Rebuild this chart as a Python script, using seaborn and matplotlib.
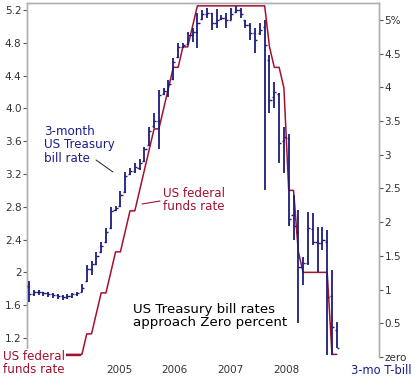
import matplotlib
matplotlib.use("Agg")
import matplotlib.pyplot as plt
import seaborn as sns
import pandas as pd
import numpy as np

# month index: 0 = Jul 2003 ... 64 = Nov 2008
months = list(range(65))

fed_funds = [1.0, 1.0, 1.0, 1.0, 1.0, 1.0, 1.0, 1.0, 1.0, 1.0, 1.0, 1.0,
             1.25, 1.25, 1.5, 1.75, 1.75, 2.0, 2.25, 2.25, 2.5, 2.75, 2.75, 3.0,
             3.25, 3.5, 3.75, 3.75, 4.0, 4.25, 4.5, 4.5, 4.75, 4.75, 5.0, 5.25,
             5.25, 5.25, 5.25, 5.25, 5.25, 5.25, 5.25, 5.25, 5.25, 5.25, 5.25, 5.25,
             5.25, 5.25, 4.75, 4.5, 4.5, 4.25, 3.0, 3.0, 2.25, 2.0, 2.0, 2.0,
             2.0, 2.0, 2.0, 1.0, 1.0]

tbill_low = [0.82, 0.90, 0.92, 0.91, 0.89, 0.88, 0.86, 0.85, 0.86, 0.88, 0.90, 0.96,
             1.11, 1.22, 1.36, 1.54, 1.69, 1.90, 2.17, 2.23, 2.43, 2.70, 2.73, 2.77,
             2.89, 3.13, 3.40, 3.08, 3.89, 3.86, 4.11, 4.44, 4.58, 4.63, 4.67, 4.58,
             5.00, 5.03, 4.85, 4.88, 5.00, 4.88, 5.00, 5.10, 5.03, 4.88, 4.70, 4.51,
             4.78, 2.48, 3.62, 3.69, 2.88, 2.73, 1.95, 1.74, 0.50, 1.07, 1.36, 1.66,
             1.26, 1.59, 0.03, 0.03, 0.13]
tbill_high = [1.12, 1.00, 0.99, 0.97, 0.96, 0.95, 0.93, 0.92, 0.93, 0.95, 0.97, 1.08,
              1.37, 1.42, 1.56, 1.71, 1.91, 2.22, 2.24, 2.46, 2.75, 2.80, 2.88, 2.93,
              3.12, 3.41, 3.62, 3.96, 3.99, 4.11, 4.44, 4.66, 4.66, 4.82, 4.88, 5.10,
              5.15, 5.18, 5.10, 5.16, 5.07, 5.10, 5.18, 5.21, 5.18, 5.00, 4.96, 4.88,
              4.96, 5.00, 4.48, 4.08, 3.92, 3.41, 3.30, 2.40, 2.18, 1.48, 2.15, 2.14,
              1.93, 1.93, 1.88, 1.29, 0.52]
tbill_open = [1.05, 0.93, 0.96, 0.97, 0.95, 0.93, 0.92, 0.90, 0.89, 0.91, 0.93, 0.96,
              1.12, 1.30, 1.38, 1.55, 1.70, 1.92, 2.18, 2.24, 2.45, 2.72, 2.76, 2.80,
              2.90, 3.14, 3.42, 3.50, 3.90, 3.95, 4.12, 4.45, 4.60, 4.64, 4.78, 4.82,
              5.02, 5.08, 5.10, 4.95, 5.02, 5.03, 5.00, 5.12, 5.15, 5.00, 4.92, 4.80,
              4.80, 4.90, 4.40, 3.85, 3.90, 3.20, 3.25, 2.10, 1.85, 1.33, 1.40, 1.90,
              1.70, 1.69, 1.70, 0.90, 0.40]
tbill_close = [0.93, 0.96, 0.97, 0.95, 0.93, 0.92, 0.90, 0.89, 0.91, 0.93, 0.95, 1.03,
               1.30, 1.38, 1.50, 1.65, 1.85, 2.16, 2.21, 2.40, 2.68, 2.76, 2.82, 2.88,
               3.08, 3.35, 3.50, 3.88, 3.95, 4.05, 4.38, 4.60, 4.62, 4.78, 4.82, 4.95,
               5.08, 5.10, 4.95, 5.00, 5.03, 5.00, 5.08, 5.15, 5.08, 4.92, 4.80, 4.70,
               4.85, 4.62, 3.81, 3.93, 3.17, 3.26, 2.05, 1.95, 1.33, 1.40, 1.91, 1.71,
               1.69, 1.74, 0.89, 0.45, 0.13]

left_ticks = [1.2, 1.6, 2.0, 2.4, 2.8, 3.2, 3.6, 4.0, 4.4, 4.8, 5.2]
left_labels = ["1.2", "1.6", "2", "2.4", "2.8", "3.2", "3.6", "4.0", "4.4", "4.8", "5.2"]
right_ticks = [0, 0.5, 1, 1.5, 2, 2.5, 3, 3.5, 4, 4.5, 5]
right_labels = ["zero", "0.5", "1", "1.5", "2", "2.5", "3", "3.5", "4", "4.5", "5%"]
year_pos = [18.7, 30.3, 41.9, 53.6]
year_labels = ["2005", "2006", "2007", "2008"]

df_ff = pd.DataFrame({"m": months, "rate": fed_funds})

sns.set_theme(style="white")
plt.rcParams["font.family"] = ["DejaVu Sans"]

W, H = 415, 379
fig = plt.figure(figsize=(W / 100, H / 100), dpi=100)
ax = fig.add_axes([27 / W, (H - 357) / H, (379 - 27) / W, (357 - 3) / H])

RED = "#a3112e"
BLUE = "#1c1c7a"
GRAY = "#b0b0b0"
TXT = "#333333"

sns.lineplot(data=df_ff, x="m", y="rate", ax=ax, color=RED, linewidth=1.1, zorder=2)
ax.set_xlim(-0.42, 72.77)
ax.set_ylim(0.968, 5.285)
ax.set_xlabel("")
ax.set_ylabel("")
ax.set_yticks(left_ticks)
ax.set_yticklabels(left_labels)
ax.set_xticks(year_pos)
ax.set_xticklabels(year_labels)
ax.tick_params(axis="y", direction="out", length=3, width=0.8, color="#555555",
               labelsize=7.5, labelcolor=TXT, pad=1, left=True)
ax.tick_params(axis="x", length=0, labelsize=7.5, labelcolor=TXT, pad=6)

ax2 = ax.twinx()
ax2.set_ylim(0, 5.25)
mm = np.array(months, dtype=float)
ax2.vlines(mm, tbill_low, tbill_high, color=BLUE, linewidth=1.3, zorder=3)
ax2.hlines(tbill_close, mm, mm + 0.45, color=BLUE, linewidth=1.0, zorder=3)
ax2.hlines(tbill_open, mm - 0.45, mm, color=BLUE, linewidth=1.0, zorder=3)
ax2.set_yticks(right_ticks)
ax2.set_yticklabels(right_labels)
ax2.tick_params(axis="y", direction="out", length=3, width=0.8, color="#555555",
                labelsize=7.5, labelcolor=TXT, pad=1, right=True)
ax2.set_ylabel("")

for a in (ax, ax2):
    a.spines["bottom"].set_visible(False)
    for s in ("left", "right", "top"):
        a.spines[s].set_color(GRAY)
        a.spines[s].set_linewidth(1.0)
    a.grid(False)

def fx(x):
    return x / W

def fy(y):
    return 1 - y / H

fig.text(fx(44), fy(145), "3-month\nUS Treasury\nbill rate", color="#1c1c8c",
         fontsize=8.6, va="center", ha="left", linespacing=1.05)
fig.add_artist(plt.Line2D([fx(96), fx(113)], [fy(160), fy(172)], color="#222222",
                          linewidth=0.7))
fig.text(fx(163), fy(200), "US federal\nfunds rate", color=RED,
         fontsize=8.6, va="center", ha="left", linespacing=1.05)
fig.add_artist(plt.Line2D([fx(142), fx(160)], [fy(204), fy(201)], color=RED,
                          linewidth=0.8))
fig.text(fx(133), fy(316), "US Treasury bill rates\napproach Zero percent", color="black",
         fontsize=9.6, va="center", ha="left", linespacing=1.05)
fig.text(fx(3), fy(363), "US federal\nfunds rate", color=RED, fontsize=8.6,
         va="center", ha="left", linespacing=1.05,
         bbox=dict(facecolor="white", edgecolor="none", pad=0.5), zorder=10)
fig.add_artist(plt.Line2D([fx(63), fx(80)], [fy(355), fy(355)], color=RED,
                          linewidth=1.0))
fig.text(fx(351), fy(370), "3-mo T-bill", color="#1c1c8c", fontsize=8.3,
         va="center", ha="left")

fig.savefig("out.png", dpi=100, facecolor="white")
